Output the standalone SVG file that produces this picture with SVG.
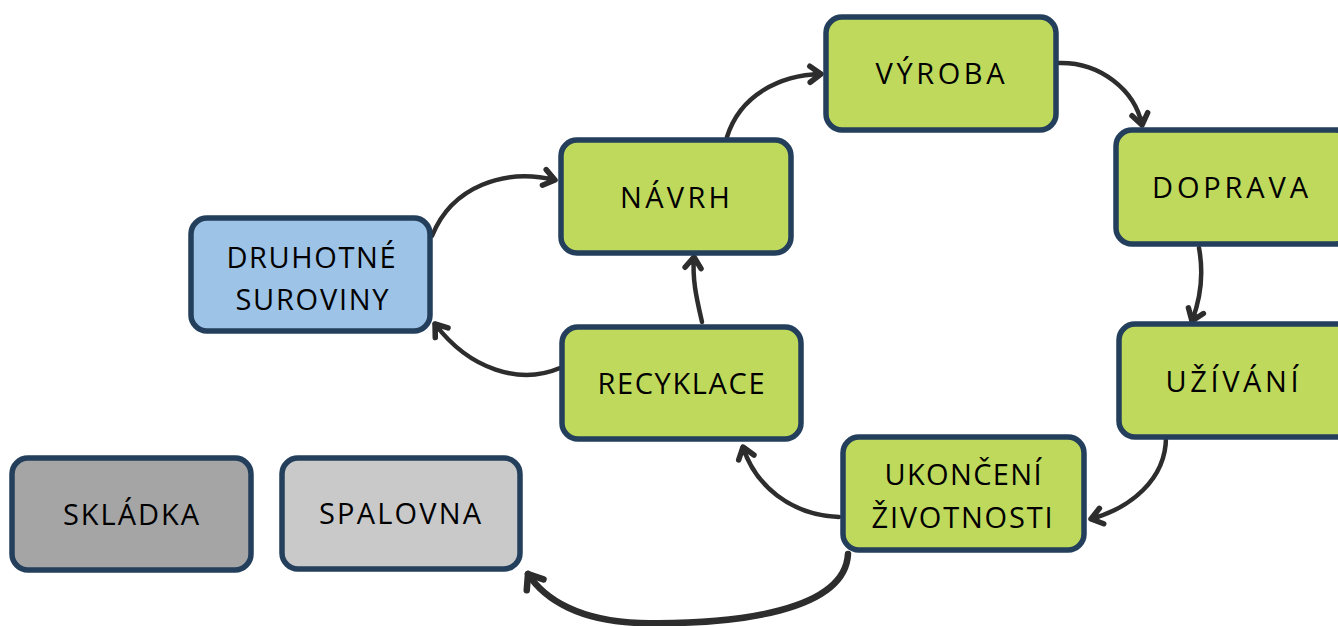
<svg xmlns="http://www.w3.org/2000/svg" width="1338" height="626" viewBox="0 0 1338 626">
<defs>
<style>
.box{stroke:#233f5c;stroke-width:5.5}
.g{fill:#bfd95c}
.b{fill:#9dc3e6}
.d{fill:#a5a5a5}
.l{fill:#c9c9c9}
.t{font-family:"Open Sans","Noto Sans","Liberation Sans",sans-serif;font-size:29px;fill:#000;text-anchor:middle}
.c{fill:none;stroke:#2d2d2d;stroke-width:4.5;stroke-linecap:round}
</style>
<marker id="ah" viewBox="-16 -12 20 24" refX="0" refY="0" markerWidth="20" markerHeight="24" orient="auto" markerUnits="userSpaceOnUse">
<path d="M-11,-8 L0,0 L-11,8" fill="none" stroke="#2d2d2d" stroke-width="5.5" stroke-linecap="round" stroke-linejoin="round"/>
<path d="M-8,-3 L0,0 L-8,3 Z" fill="#2d2d2d"/>
</marker>
<marker id="ah2" viewBox="-18 -14 22 28" refX="0" refY="0" markerWidth="22" markerHeight="28" orient="auto" markerUnits="userSpaceOnUse">
<path d="M-13,-10 L0,0 L-13,10" fill="none" stroke="#2d2d2d" stroke-width="6.5" stroke-linecap="round" stroke-linejoin="round"/>
</marker>
</defs>

<g id="connectors">
<path class="c" d="M432,236 C452,186 505,168 555,180" marker-end="url(#ah)"/>
<path class="c" d="M560,368 C520,385 470,370 435,324" marker-end="url(#ah)"/>
<path class="c" d="M702,322 C697,300 692,280 694,257" marker-end="url(#ah)"/>
<path class="c" d="M727,137 C740,95 780,75 821,74" marker-end="url(#ah)"/>
<path class="c" d="M1059,63 C1100,62 1135,90 1142,125" marker-end="url(#ah)"/>
<path class="c" d="M1199,248 C1204,275 1200,300 1192,321" marker-end="url(#ah)"/>
<path class="c" d="M1166,437 C1166,480 1130,508 1091,519" marker-end="url(#ah)"/>
<path class="c" d="M839,517 C790,515 755,485 743,447" marker-end="url(#ah)"/>
<path class="c" style="stroke-width:6.5" d="M848,554 C845,610 740,625 640,623 C580,621 545,600 528,574" marker-end="url(#ah2)"/>
</g>

<g id="vyroba">
<rect class="box g" x="826" y="17" width="230" height="113" rx="16"/>
<text class="t" x="940" y="84" textLength="129" lengthAdjust="spacing">VÝROBA</text>
</g>
<g id="navrh">
<rect class="box g" x="561" y="140" width="230" height="113" rx="16"/>
<text class="t" x="675" y="208" textLength="110" lengthAdjust="spacing">NÁVRH</text>
</g>
<g id="doprava">
<rect class="box g" x="1116" y="130" width="236" height="114" rx="16"/>
<text class="t" x="1230" y="198" textLength="156" lengthAdjust="spacing">DOPRAVA</text>
</g>
<g id="uzivani">
<rect class="box g" x="1119" y="324" width="236" height="113" rx="16"/>
<text class="t" x="1232" y="392" textLength="133" lengthAdjust="spacing">UŽÍVÁNÍ</text>
</g>
<g id="ukonceni">
<rect class="box g" x="843" y="437" width="241" height="113" rx="16"/>
<text class="t" x="963" y="485" textLength="157" lengthAdjust="spacing">UKONČENÍ</text>
<text class="t" x="962" y="528" textLength="181" lengthAdjust="spacing">ŽIVOTNOSTI</text>
</g>
<g id="recyklace">
<rect class="box g" x="562" y="327" width="239" height="112" rx="16"/>
<text class="t" x="681" y="394" textLength="167" lengthAdjust="spacing">RECYKLACE</text>
</g>
<g id="druhotne">
<rect class="box b" x="191" y="218" width="239" height="113" rx="16"/>
<text class="t" x="311" y="268" textLength="169" lengthAdjust="spacing">DRUHOTNÉ</text>
<text class="t" x="312" y="310" textLength="153" lengthAdjust="spacing">SUROVINY</text>
</g>
<g id="skladka">
<rect class="box d" x="12" y="458" width="239" height="112" rx="16"/>
<text class="t" x="131" y="525" textLength="136" lengthAdjust="spacing">SKLÁDKA</text>
</g>
<g id="spalovna">
<rect class="box l" x="282" y="458" width="238" height="111" rx="16"/>
<text class="t" x="400" y="524" textLength="162" lengthAdjust="spacing">SPALOVNA</text>
</g>
</svg>
